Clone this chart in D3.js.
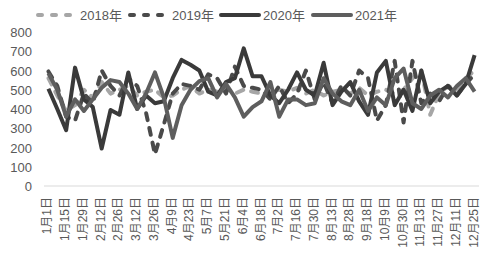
<!DOCTYPE html>
<html>
<head>
<meta charset="utf-8">
<script src="https://cdn.jsdelivr.net/npm/d3@7"></script>
<style>
  body { margin: 0; background: #fff; }
  text { font-family: "Liberation Sans", "Noto Sans CJK SC", sans-serif; fill: #595959; }
</style>
</head>
<body>
<div id="chart"></div>
<script>
// categories (every other one is labelled on the axis)
const dates = ["1月1日","1月8日","1月15日","1月22日","1月29日","2月5日","2月12日","2月19日","2月26日","3月5日",
  "3月12日","3月19日","3月26日","4月2日","4月9日","4月16日","4月23日","4月30日","5月7日","5月14日",
  "5月21日","5月28日","6月4日","6月11日","6月18日","6月25日","7月2日","7月9日","7月16日","7月23日",
  "7月30日","8月6日","8月13日","8月20日","8月28日","9月4日","9月18日","9月30日","10月9日","10月16日",
  "10月30日","11月6日","11月13日","11月20日","11月27日","12月4日","12月11日","12月18日","12月25日"];

const years = ["2018年","2019年","2020年","2021年"];

const v2018 = [560,470,390,420,500,460,540,480,500,520,470,490,500,460,470,500,520,480,500,490,
  510,480,500,490,480,470,500,490,510,480,500,470,490,500,480,510,470,490,500,480,
  500,560,600,370,480,520,500,560,600];
const v2019 = [595,520,360,340,480,430,600,520,470,560,520,380,165,320,480,530,520,500,580,560,
  480,620,520,510,500,450,520,430,480,600,450,540,430,520,470,600,560,340,420,650,
  330,650,430,480,440,520,470,530,580];
const v2020 = [505,400,290,615,450,410,195,395,370,590,400,470,430,440,560,655,630,600,490,470,
  540,560,715,570,570,470,430,500,590,500,470,640,420,490,540,440,370,590,650,420,
  500,390,600,430,490,520,470,530,680];
const v2021 = [585,500,360,450,390,450,510,550,540,480,400,480,590,460,250,420,500,545,560,460,
  530,460,360,410,440,540,360,450,450,420,430,560,480,440,420,500,390,460,420,560,
  610,430,400,470,500,460,520,560,490];

const yTicks = [0,100,200,300,400,500,600,700,800];

const series = [
  {name: years[0], values: v2018, color: "#a6a6a6", dash: "7,8"},
  {name: years[1], values: v2019, color: "#4a4a4a", dash: "7,8"},
  {name: years[2], values: v2020, color: "#3a3a3a", dash: null},
  {name: years[3], values: v2021, color: "#5e5e5e", dash: null}
];

const width = 490, height = 262;
const margin = {top: 32, right: 11, bottom: 76, left: 44};

const svg = d3.select("#chart").append("svg")
  .attr("width", width)
  .attr("height", height);

const x = d3.scalePoint()
  .domain(dates)
  .range([margin.left + 4.4, width - margin.right - 4.4]);

const y = d3.scaleLinear()
  .domain([0, 800])
  .range([height - margin.bottom, margin.top]);

// y labels
svg.selectAll(".ylab")
  .data(yTicks)
  .enter().append("text")
  .attr("class", "ylab")
  .attr("x", 32)
  .attr("y", d => y(d) + 5)
  .attr("text-anchor", "end")
  .attr("font-size", "13px")
  .text(d => d);

// x axis line
svg.append("line")
  .attr("x1", margin.left)
  .attr("x2", width - margin.right)
  .attr("y1", y(0))
  .attr("y2", y(0))
  .attr("stroke", "#d9d9d9")
  .attr("stroke-width", 1);

// x labels, rotated
svg.selectAll(".xlab")
  .data(dates.filter((d, i) => i % 2 === 0))
  .enter().append("text")
  .attr("class", "xlab")
  .attr("transform", d => `translate(${x(d) + 3},${y(0) + 11}) rotate(-90)`)
  .attr("text-anchor", "end")
  .attr("font-size", "12px")
  .text(d => d);

const line = d3.line()
  .x((d, i) => x(dates[i]))
  .y(d => y(d));

svg.selectAll(".series")
  .data(series)
  .enter().append("path")
  .attr("class", "series")
  .attr("d", d => line(d.values))
  .attr("fill", "none")
  .attr("stroke", d => d.color)
  .attr("stroke-width", 4)
  .attr("stroke-linejoin", "round")
  .attr("stroke-linecap", d => d.dash ? "round" : "butt")
  .attr("stroke-dasharray", d => d.dash);

// legend
const legendX = [36, 128, 219, 311];
const leg = svg.selectAll(".leg")
  .data(series)
  .enter().append("g")
  .attr("class", "leg")
  .attr("transform", (d, i) => `translate(${legendX[i]},15)`);

leg.append("line")
  .attr("x1", 2).attr("x2", 40)
  .attr("y1", 0).attr("y2", 0)
  .attr("stroke", d => d.color)
  .attr("stroke-width", 4)
  .attr("stroke-linecap", "round")
  .attr("stroke-dasharray", d => d.dash ? "4,10" : null);

leg.append("text")
  .attr("x", 44)
  .attr("y", 5)
  .attr("font-size", "13px")
  .text(d => d.name);
</script>
</body>
</html>
